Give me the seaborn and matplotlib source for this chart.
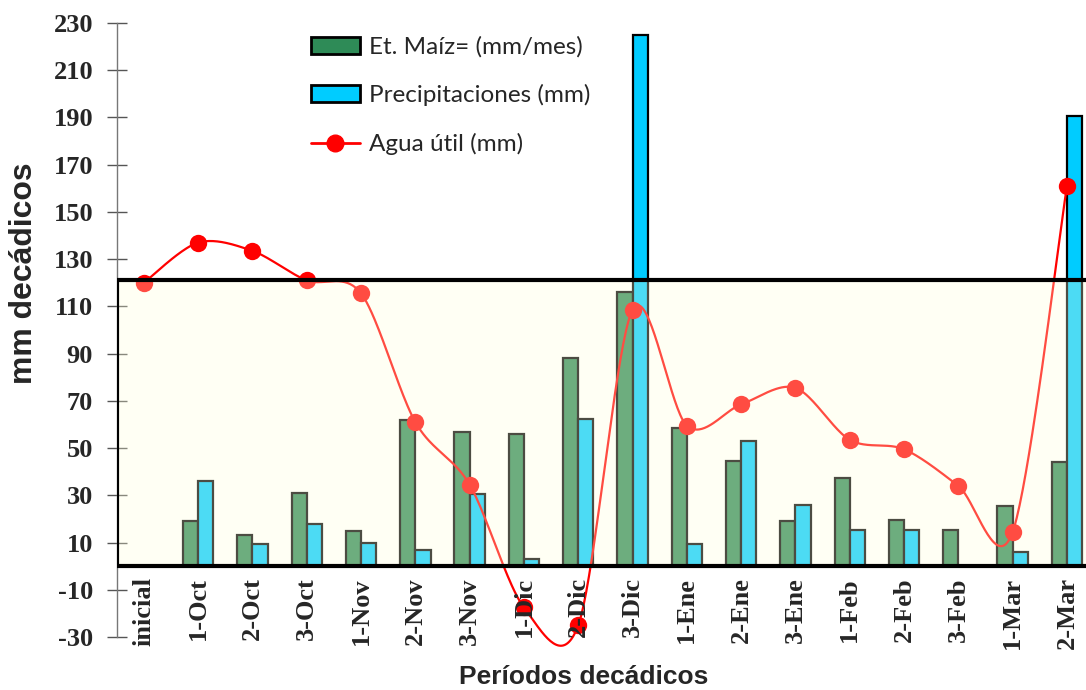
import numpy as np
import pandas as pd
import matplotlib
matplotlib.use("Agg")
import matplotlib.pyplot as plt
import seaborn as sns
from matplotlib.patches import Rectangle, Patch
from matplotlib.lines import Line2D

# Decadal periods
periodos = ["inicial", "1-Oct", "2-Oct", "3-Oct", "1-Nov", "2-Nov", "3-Nov",
            "1-Dic", "2-Dic", "3-Dic", "1-Ene", "2-Ene", "3-Ene",
            "1-Feb", "2-Feb", "3-Feb", "1-Mar", "2-Mar"]

et_maiz = [0, 19, 13, 31, 15, 62, 57, 56, 88, 116, 58.5, 44.5, 19,
           37.5, 19.5, 15.5, 25.5, 44]
precipitaciones = [0, 36, 9.5, 18, 10, 7, 30.5, 3, 62.5, 225, 9.5, 53, 26,
                   15.5, 15.5, 0, 6, 190.5]
agua_util = [120, 137, 133.5, 121, 115.5, 61, 34.5, -17.5, -25, 108.5, 59.5,
             68.5, 75.5, 53.5, 49.5, 34, 14.5, 161]

capacidad = 121  # upper limit of the shaded band

y_ticks = list(range(-30, 231, 20))

s_et = "Et. Maíz= (mm/mes)"
s_pp = "Precipitaciones (mm)"
s_au = "Agua útil (mm)"

GREEN = "#2E8B57"
CYAN = "#00CCFF"
RED = "#FF0000"


def smooth_curve(ys, n=40):
    """Excel-like smoothed line (Catmull-Rom style Bezier segments)."""
    ys = np.asarray(ys, dtype=float)
    xs = np.arange(len(ys), dtype=float)
    px = np.concatenate([[xs[0]], xs, [xs[-1]]])
    py = np.concatenate([[ys[0]], ys, [ys[-1]]])
    out_x, out_y = [], []
    t = np.linspace(0, 1, n)
    for i in range(1, len(px) - 2):
        p0 = np.array([px[i], py[i]])
        p3 = np.array([px[i + 1], py[i + 1]])
        c1 = p0 + (np.array([px[i + 1], py[i + 1]]) - np.array([px[i - 1], py[i - 1]])) / 6.5
        c2 = p3 - (np.array([px[i + 2], py[i + 2]]) - np.array([px[i], py[i]])) / 6.5
        b = ((1 - t)[:, None] ** 3 * p0 + 3 * ((1 - t) ** 2 * t)[:, None] * c1
             + 3 * ((1 - t) * t ** 2)[:, None] * c2 + (t ** 3)[:, None] * p3)
        out_x.extend(b[:, 0])
        out_y.extend(b[:, 1])
    return np.array(out_x), np.array(out_y)


sns.set_theme(style="white")
plt.rcParams["font.family"] = ["Liberation Sans", "DejaVu Sans"]

df = pd.DataFrame({
    "periodo": periodos * 2,
    "serie": [s_et] * len(periodos) + [s_pp] * len(periodos),
    "mm": et_maiz + precipitaciones,
})

fig = plt.figure(figsize=(10.86, 6.9), dpi=100)
left_px, right_px, top_px, bot_px = 116.7, 1086, 23, 637
ax = fig.add_axes([left_px / 1086, 1 - bot_px / 690,
                   (right_px - left_px) / 1086, (bot_px - top_px) / 690])

sns.barplot(data=df, x="periodo", y="mm", hue="serie", order=periodos,
            palette=[GREEN, CYAN], saturation=1, width=0.56, gap=0, dodge=True,
            edgecolor="black", linewidth=1.6, legend=False, ax=ax, zorder=2)

# Smoothed "agua útil" line with markers
cx, cy = smooth_curve(agua_util)
ax.plot(cx, cy, color=RED, lw=1.6, zorder=3, clip_on=False)
ax.plot(np.arange(len(agua_util)), agua_util, "o", color=RED, ms=12.5,
        mec="none", zorder=3, clip_on=False)

# Translucent band from 0 to field capacity
ax.add_patch(Rectangle((-0.5, 0), 40, capacidad, facecolor=(1, 1, 0.86, 0.3),
                       edgecolor="none", zorder=4))
ax.plot([-0.5, -0.5, 40], [0, capacidad, capacidad], color="black", lw=3,
        zorder=5, solid_joinstyle="miter")
ax.axhline(0, color="black", lw=3, zorder=5)

ax.set_xlim(-0.5, -0.5 + (right_px - left_px) / 54.3)
ax.set_ylim(-30, 230)
ax.set_yticks(y_ticks)
ax.set_yticklabels([str(v) for v in y_ticks], fontfamily="Liberation Serif",
                   fontweight="bold", fontsize=19)

ax.spines["bottom"].set_position(("data", 0))
ax.spines["bottom"].set_visible(False)
ax.spines["top"].set_visible(False)
ax.spines["right"].set_visible(False)
ax.spines["left"].set_color("#777777")
ax.spines["left"].set_linewidth(1)

ax.set_xticks(range(len(periodos)))
ax.set_xticklabels(periodos, rotation=90, fontfamily="Liberation Serif",
                   fontweight="bold", fontsize=19, va="top", ha="center")
ax.set_xticks(np.arange(0.5, len(periodos) - 1, 1), minor=True)
ax.tick_params(axis="x", which="major", length=0, pad=8)
ax.tick_params(axis="x", which="minor", length=14, direction="inout",
               color="#555555", width=1)
ax.tick_params(axis="y", length=14, direction="inout", color="#555555",
               width=1, pad=10, left=True)
ax.xaxis.set_zorder(6)
ax.set_xlabel("")
ax.set_ylabel("")
ax.grid(False)

fig.text(24 / 1086, 1 - 273 / 690, "mm decádicos", rotation=90, ha="center",
         va="center", fontsize=23, fontweight="bold")
fig.text(584 / 1086, 1 - 677 / 690, "Períodos decádicos", ha="center",
         va="center", fontsize=19, fontweight="bold")

handles = [
    Patch(facecolor=GREEN, edgecolor="black", linewidth=2, label=s_et),
    Patch(facecolor=CYAN, edgecolor="black", linewidth=2, label=s_pp),
    Line2D([0], [0], color=RED, lw=2, marker="o", ms=12, label=s_au),
]
ax.legend(handles=handles, loc="upper left", frameon=False,
          bbox_to_anchor=(311 / 1086, 1 - 36 / 690), bbox_transform=fig.transFigure,
          prop={"family": "Lato", "size": 17.5}, handlelength=2.0,
          handleheight=0.7, handletextpad=0.4, labelspacing=1.1,
          borderpad=0, borderaxespad=0)

fig.savefig("out.png", dpi=100)
